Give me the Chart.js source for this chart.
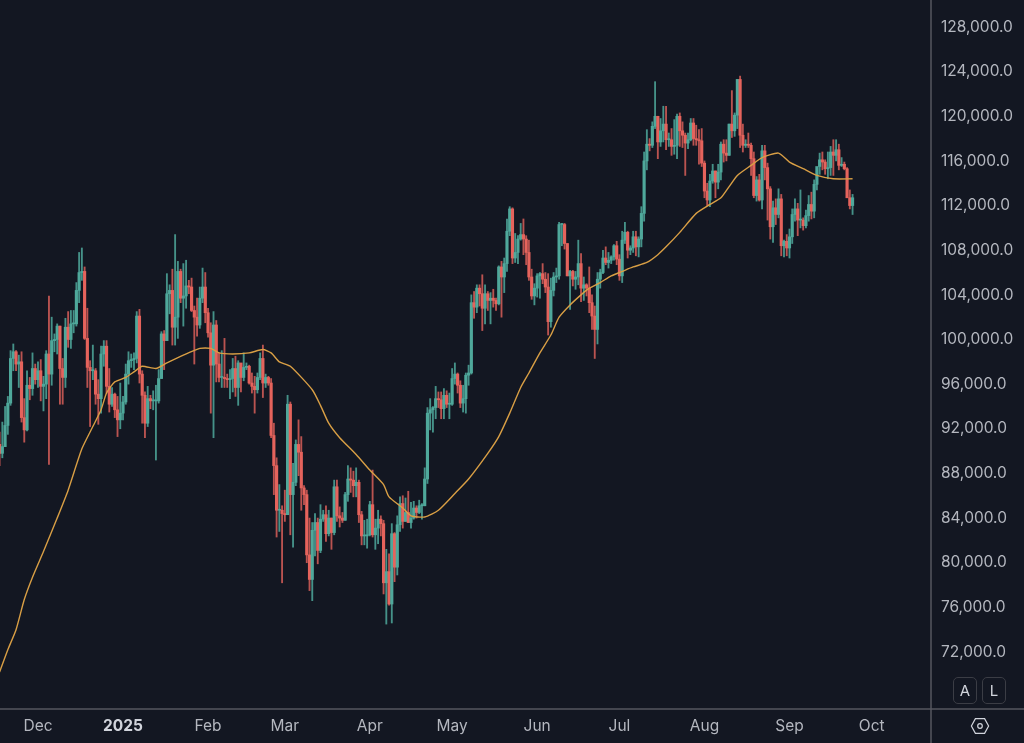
<!DOCTYPE html>
<html>
<head>
<meta charset="utf-8">
<title>Price chart</title>
<script src="https://cdn.jsdelivr.net/npm/chart.js@4"></script>
<style>
  html, body { margin: 0; padding: 0; background: #131722; }
  #wrap { position: relative; width: 1024px; height: 743px; overflow: hidden; }
  canvas { display: block; }
  .btn {
    position: absolute; top: 677px; width: 22px; height: 25px;
    border: 1px solid #3b3d45; border-radius: 5px; color: #d1d4dc;
    font: 15px Inter, sans-serif; line-height: 25px; text-align: center;
  }
  #gear { position: absolute; left: 970px; top: 717px; }
</style>
</head>
<body>
<div id="wrap">
  <canvas id="chart" width="1024" height="743"></canvas>
  <div class="btn" style="left:953px">A</div>
  <div class="btn" style="left:982px">L</div>
  <svg id="gear" width="20" height="18" viewBox="0 0 20 18" fill="none" stroke="#d1d4dc" stroke-width="1.2">
    <path d="M5.4 1.6 H14.6 L18.6 9 L14.6 16.4 H5.4 L1.4 9 Z"/>
    <circle cx="10" cy="9" r="2.3"/>
  </svg>
</div>
<script>
// daily candles in thousands, day 0 = 17 Nov 2024, last = 24 Sep 2025
const opens = [
  90.6,89.8,90.4,92.3,94.3,98.3,98.9,97.8,98.0,93.0,91.9,95.9,95.6,97.4,
  96.4,97.2,95.8,96.0,98.7,96.9,99.9,100.0,101.2,97.4,96.6,101.1,100.0,101.4,101.4,104.4,106.0,106.1,100.1,97.5,97.2,97.2,95.1,94.7,98.7,99.4,95.8,94.2,95.1,93.7,92.8,
  93.4,94.4,96.9,98.1,98.2,98.3,102.1,96.9,95.0,92.5,94.7,94.5,94.5,94.5,96.5,100.5,99.9,104.1,104.4,101.1,102.0,106.1,103.7,103.9,104.8,104.7,102.6,102.0,101.3,103.7,104.7,
  102.4,100.6,97.7,101.3,97.8,96.6,96.6,96.5,96.4,96.5,97.4,95.7,97.9,96.6,97.5,97.6,96.1,95.8,95.5,96.6,98.3,96.1,96.6,96.1,91.4,88.7,84.7,84.7,
  84.4,84.3,94.2,86.1,87.2,90.6,89.9,86.7,86.1,80.7,78.5,82.9,83.6,81.1,83.9,84.3,82.6,84.0,82.7,86.8,84.2,84.0,83.8,86.1,87.5,87.4,86.9,87.2,84.3,82.4,82.4,
  82.5,85.2,82.5,83.1,83.9,83.5,78.2,79.2,76.3,82.6,79.6,83.4,85.3,83.7,84.5,83.6,84.0,84.9,84.5,85.1,85.1,87.5,93.4,93.7,93.9,94.7,94.6,93.8,95.0,94.2,
  94.2,96.5,96.9,95.9,94.3,94.7,96.8,97.0,103.3,102.9,104.6,104.1,102.8,104.1,103.5,103.7,103.5,103.2,106.5,105.6,106.8,109.7,111.7,107.3,107.8,109.0,109.4,109.0,107.8,105.6,103.9,
  104.6,105.7,105.9,105.4,104.7,101.6,104.4,105.6,105.7,110.3,110.3,108.6,105.7,106.1,105.4,105.6,106.8,104.6,104.9,104.6,103.3,102.1,100.9,105.4,106.0,107.3,106.9,107.1,107.4,108.4,
  107.2,105.7,108.9,109.6,108.0,108.2,109.2,108.3,109.0,111.3,116.0,117.5,117.4,119.1,120.0,117.7,118.7,119.3,117.9,117.9,117.3,117.4,120.0,118.7,118.3,117.6,117.9,119.4,118.0,117.9,117.8,
  115.8,113.3,112.5,114.2,115.1,114.1,115.0,117.5,116.7,116.5,119.3,118.7,120.1,123.3,118.3,117.4,117.5,117.4,116.2,112.9,114.3,112.5,116.9,115.4,113.5,110.1,111.8,111.2,112.6,108.4,108.8,
  108.2,109.2,111.2,111.7,110.7,110.7,110.2,111.1,112.1,111.5,113.9,115.5,116.1,115.9,115.3,115.4,116.8,116.5,117.0,115.6,115.7,115.3,112.7,112.0
];
const highs = [
  91.7,92.6,94.0,94.9,99.0,99.6,99.0,98.6,98.9,94.7,97.2,96.6,98.8,97.8,
  98.0,98.2,96.7,99.0,103.9,102.0,100.5,101.4,101.2,98.3,101.9,102.5,102.6,102.6,105.1,107.8,108.2,106.5,102.8,98.1,99.5,97.4,96.4,99.4,99.9,99.9,97.4,95.7,95.2,94.9,96.1,
  94.9,97.8,98.9,98.7,98.8,102.5,102.7,97.2,95.3,95.8,95.0,95.4,95.9,97.3,100.7,100.8,105.9,104.9,106.3,109.4,107.0,106.3,106.8,107.1,105.3,105.5,103.0,103.7,104.7,106.4,106.0,
  102.8,101.5,102.5,101.7,98.8,99.0,100.1,96.9,97.3,98.3,98.5,98.1,97.2,98.8,97.9,97.7,97.0,96.7,97.0,98.8,99.5,96.9,96.7,96.5,92.5,89.4,87.0,85.1,
  86.5,95.0,94.4,88.9,91.0,92.8,91.3,86.9,86.5,84.0,83.6,84.4,84.0,85.2,84.7,85.1,84.7,84.0,87.4,87.4,85.0,84.5,86.3,88.7,88.5,88.2,88.5,87.4,84.6,83.8,83.9,
  85.5,88.3,83.9,84.7,84.2,83.8,81.2,80.8,83.5,82.7,84.2,85.9,86.0,85.8,86.4,85.4,85.5,85.1,85.6,85.3,88.5,93.9,94.7,94.0,95.8,95.3,95.3,95.6,95.4,95.2,
  97.4,97.9,97.0,96.3,95.9,97.0,97.7,104.0,104.3,104.9,104.9,105.8,104.9,104.3,104.2,104.5,103.7,106.6,107.0,107.3,110.8,111.9,111.8,109.5,109.3,110.4,110.8,109.3,108.9,106.3,105.0,
  105.9,106.0,106.8,106.0,105.9,105.5,106.0,106.4,110.5,110.4,110.4,108.6,106.2,106.2,106.1,108.9,107.7,105.6,105.0,106.5,104.0,103.0,106.0,106.3,108.0,108.3,107.8,107.5,108.5,108.8,
  107.6,109.7,110.5,109.7,108.4,109.7,109.7,109.2,111.9,116.8,118.8,118.0,119.5,123.1,120.0,119.8,120.9,120.9,118.5,118.9,119.7,120.2,120.3,119.5,118.5,118.5,119.8,119.8,119.2,118.8,118.9,
  116.0,114.0,114.8,115.7,115.1,115.7,117.7,117.9,117.9,119.3,122.3,120.3,123.3,123.6,119.3,117.9,118.5,117.6,116.8,114.6,114.8,117.4,117.4,115.8,113.7,112.4,112.6,113.5,113.0,108.9,109.4,
  109.9,111.7,112.6,112.2,113.4,110.9,111.6,112.9,113.2,114.3,115.4,116.7,116.8,116.1,116.8,117.3,117.9,117.9,117.5,116.3,115.9,115.4,113.4,113.0
];
const lows = [
  88.7,89.4,90.4,91.5,94.1,97.2,97.2,95.7,92.6,90.8,91.8,94.6,95.0,96.0,
  95.7,94.5,93.6,94.7,88.8,95.9,98.9,98.7,94.2,94.2,95.7,99.3,99.2,100.6,101.2,103.3,105.3,100.0,95.7,92.2,96.4,94.2,92.4,93.4,97.6,95.2,93.5,94.0,93.0,91.3,92.0,
  92.8,94.2,96.0,97.5,97.3,97.9,96.1,92.5,91.2,92.2,93.8,93.7,89.2,94.3,96.5,97.3,99.9,102.3,99.5,99.5,100.1,103.3,101.2,102.8,104.1,102.5,97.8,100.3,101.0,103.3,101.5,
  100.2,93.4,91.2,96.2,96.2,95.7,95.7,95.7,94.7,95.3,94.9,94.1,95.3,96.3,97.3,96.0,95.2,93.4,95.2,96.4,94.8,95.7,95.9,91.2,86.1,82.3,82.8,78.2,
  83.7,85.0,82.5,81.4,86.9,87.8,84.7,85.2,80.0,77.5,76.6,80.6,79.9,80.9,83.7,81.9,82.4,81.2,82.5,83.7,83.2,83.6,83.8,85.5,86.3,85.9,85.9,83.6,81.6,81.6,81.3,
  82.4,82.3,81.2,81.7,82.4,77.2,74.5,76.2,74.6,78.3,78.9,82.8,83.1,83.7,83.6,83.1,83.9,84.0,84.4,83.9,85.1,87.1,91.9,91.7,92.9,93.9,92.9,92.9,93.9,92.9,
  94.1,96.0,95.2,93.9,93.5,93.4,95.9,96.9,101.9,102.4,103.0,100.8,101.4,102.6,101.4,102.9,102.6,103.1,102.0,104.2,106.1,109.3,106.8,106.9,106.8,108.9,107.6,106.7,105.3,103.6,103.1,
  103.8,103.7,105.0,104.2,100.4,101.1,103.9,105.1,105.4,108.4,108.1,105.7,102.7,104.8,104.5,104.9,103.4,103.5,103.9,102.4,100.9,98.3,99.6,104.6,105.9,106.7,106.4,106.8,107.1,106.7,
  105.3,105.1,108.6,107.3,107.6,107.8,107.5,107.4,108.3,110.6,115.2,116.9,117.2,118.9,116.2,117.3,117.7,117.0,117.3,116.5,116.6,116.2,117.3,117.2,114.7,117.1,117.8,117.4,117.4,115.7,115.5,
  112.7,112.0,111.9,114.0,112.7,113.5,114.3,115.9,116.0,116.5,118.1,118.2,118.9,117.2,116.8,117.2,117.2,114.7,112.7,112.4,112.4,111.7,114.3,110.7,109.0,108.7,110.3,110.9,107.5,107.4,107.5,
  107.3,108.6,110.6,109.3,110.0,109.8,110.0,110.6,110.8,110.9,113.4,114.8,115.2,114.8,114.4,114.7,114.7,116.0,115.2,115.5,115.2,112.7,111.7,111.2
];
const closes = [
  89.8,90.4,92.3,94.3,98.3,98.9,97.8,98.0,93.0,91.9,95.9,95.6,97.4,96.4,
  97.2,95.8,96.0,98.7,96.9,99.9,100.0,101.2,97.4,96.6,101.1,100.0,101.4,101.4,104.4,106.0,106.1,100.1,97.5,97.2,97.2,95.1,94.7,98.7,99.4,95.8,94.2,95.1,93.7,92.8,93.4,
  94.4,96.9,98.1,98.2,98.3,102.1,96.9,95.0,92.5,94.7,94.5,94.5,94.5,96.5,100.5,99.9,104.1,104.4,101.1,102.0,106.1,103.7,103.9,104.8,104.7,102.6,102.0,101.3,103.7,104.7,102.4,
  100.6,97.7,101.3,97.8,96.6,96.6,96.5,96.4,96.5,97.4,95.7,97.9,96.6,97.5,97.6,96.1,95.8,95.5,96.6,98.3,96.1,96.6,96.1,91.4,88.7,84.7,84.7,84.4,
  84.3,94.2,86.1,87.2,90.6,89.9,86.7,86.1,80.7,78.5,82.9,83.6,81.1,83.9,84.3,82.6,84.0,82.7,86.8,84.2,84.0,83.8,86.1,87.5,87.4,86.9,87.2,84.3,82.4,82.4,82.5,
  85.2,82.5,83.1,83.9,83.5,78.2,79.2,76.3,82.6,79.6,83.4,85.3,83.7,84.5,83.6,84.0,84.9,84.5,85.1,85.1,87.5,93.4,93.7,93.9,94.7,94.6,93.8,95.0,94.2,94.2,
  96.5,96.9,95.9,94.3,94.7,96.8,97.0,103.3,102.9,104.6,104.1,102.8,104.1,103.5,103.7,103.5,103.2,106.5,105.6,106.8,109.7,111.7,107.3,107.8,109.0,109.4,109.0,107.8,105.6,103.9,104.6,
  105.7,105.9,105.4,104.7,101.6,104.4,105.6,105.7,110.3,110.3,108.6,105.7,106.1,105.4,105.6,106.8,104.6,104.9,104.6,103.3,102.1,100.9,105.4,106.0,107.3,106.9,107.1,107.4,108.4,107.2,
  105.7,108.9,109.6,108.0,108.2,109.2,108.3,109.0,111.3,116.0,117.5,117.4,119.1,120.0,117.7,118.7,119.3,117.9,117.9,117.3,117.4,120.0,118.7,118.3,117.6,117.9,119.4,118.0,117.9,117.8,115.8,
  113.3,112.5,114.2,115.1,114.1,115.0,117.5,116.7,116.5,119.3,118.7,120.1,123.3,118.3,117.4,117.5,117.4,116.2,112.9,114.3,112.5,116.9,115.4,113.5,110.1,111.8,111.2,112.6,108.4,108.8,108.2,
  109.2,111.2,111.7,110.7,110.7,110.2,111.1,112.1,111.5,113.9,115.5,116.1,115.9,115.3,115.4,116.8,116.5,117.0,115.6,115.7,115.3,112.7,112.0,112.7
];

// moving average line
const maDays = [0,3,6,9,12,16,21,25,30,34,37,39,42,46,49,52,57,61,67,73,77,80,85,91,96,99,102,106,114,117,120,124,130,135,140,142,147,150,155,160,166,171,178,182,186,190,193,197,201,204,208,212,215,219,223,227,231,236,240,243,248,254,259,263,266,269,274,278,284,288,293,298,304,311];
const maValues = [70.2,72.2,74.0,76.7,78.7,81.0,84.0,86.5,90.2,92.2,93.7,95.2,96.2,96.6,97.1,97.6,97.4,97.9,98.6,99.2,99.2,98.8,98.7,98.8,99.1,98.8,98.0,97.6,95.5,94.1,92.5,91.2,89.7,88.3,87.0,85.9,84.9,84.2,84.1,84.7,86.2,87.5,89.8,91.3,93.4,95.7,97.0,98.8,100.4,102.0,103.1,104.0,104.6,105.1,105.7,106.1,106.5,106.9,107.6,108.3,109.6,111.3,112.1,112.7,113.7,114.7,115.6,116.3,116.7,115.9,115.3,114.7,114.4,114.4];

const priceTicks = [72000,76000,80000,84000,88000,92000,96000,100000,104000,108000,112000,116000,120000,124000,128000];
const monthDays = [14,45,76,104,135,165,196,226,257,288,318];
const monthLabels = ['Dec','2025','Feb','Mar','Apr','May','Jun','Jul','Aug','Sep','Oct'];

const UP = '#4fa89b';
const DOWN = '#e5635c';
const candleColors = closes.map((c, i) => (c >= opens[i] ? UP : DOWN));
const wickColors = closes.map((c, i) => (c >= opens[i] ? 'rgba(79,168,155,0.85)' : 'rgba(229,99,92,0.8)'));

// frame lines run through the whole window, past the plot area
const frameLines = {
  id: 'frameLines',
  afterDraw(chart) {
    const { ctx, chartArea, width, height } = chart;
    ctx.save();
    ctx.strokeStyle = '#55575f';
    ctx.lineWidth = 1.5;
    ctx.beginPath();
    ctx.moveTo(chartArea.right, 0);
    ctx.lineTo(chartArea.right, height);
    ctx.moveTo(0, chartArea.bottom);
    ctx.lineTo(width, chartArea.bottom);
    ctx.stroke();
    ctx.restore();
  }
};

new Chart(document.getElementById('chart').getContext('2d'), {
  type: 'bar',
  data: {
    datasets: [
      {
        type: 'line',
        data: maDays.map((d, i) => ({ x: d, y: maValues[i] * 1000 })),
        borderColor: '#d99f45',
        borderWidth: 1.4,
        pointRadius: 0,
        tension: 0.2,
        order: 0
      },
      {
        data: closes.map((c, i) => ({ x: i, y: [opens[i] * 1000, c * 1000] })),
        backgroundColor: candleColors,
        barThickness: 2.5,
        minBarLength: 1,
        grouped: false,
        order: 1
      },
      {
        data: highs.map((h, i) => ({ x: i, y: [lows[i] * 1000, h * 1000] })),
        backgroundColor: wickColors,
        barThickness: 1.2,
        grouped: false,
        order: 2
      }
    ]
  },
  options: {
    responsive: false,
    animation: false,
    layout: { padding: 0 },
    plugins: { legend: { display: false }, tooltip: { enabled: false } },
    scales: {
      x: {
        type: 'linear',
        offset: false,
        min: 0.15,
        max: 339.6,
        grid: { display: false },
        border: { display: false },
        afterBuildTicks: axis => { axis.ticks = monthDays.map(value => ({ value })); },
        afterFit: axis => { axis.height = 34; axis.paddingLeft = 0; axis.paddingRight = 0; },
        ticks: {
          autoSkip: false,
          maxRotation: 0,
          padding: 0,
          color: ctx => (ctx.index === 1 ? '#d1d4dc' : '#b4b7bf'),
          font: ctx => ({ family: 'Inter', size: 15.5, weight: ctx.index === 1 ? 'bold' : 'normal' }),
          callback: (value, index) => monthLabels[index]
        }
      },
      y: {
        position: 'right',
        min: 66892,
        max: 130419,
        grid: { display: false },
        border: { display: false },
        afterBuildTicks: axis => { axis.ticks = priceTicks.map(value => ({ value })); },
        afterFit: axis => { axis.width = 93; axis.paddingTop = 0; axis.paddingBottom = 0; },
        ticks: {
          autoSkip: false,
          padding: 2,
          color: '#b4b7bf',
          font: { family: 'Inter', size: 15.5 },
          callback: value => value.toLocaleString('en-US', { minimumFractionDigits: 1 })
        }
      }
    }
  },
  plugins: [frameLines]
});
</script>
</body>
</html>
